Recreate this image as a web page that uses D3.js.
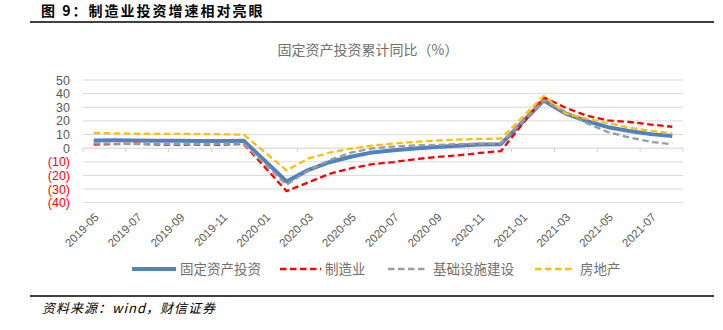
<!DOCTYPE html>
<html><head><meta charset="utf-8">
<script src="https://cdn.jsdelivr.net/npm/d3@7"></script>
<style>
body{margin:0;background:#fff;}
svg{display:block;}
</style></head>
<body>
<svg id="c" width="723" height="330"></svg>
<script>
const months = ["2019-05","2019-06","2019-07","2019-08","2019-09","2019-10","2019-11","2019-12",
"2020-01","2020-02","2020-03","2020-04","2020-05","2020-06","2020-07","2020-08","2020-09","2020-10","2020-11","2020-12",
"2021-01","2021-02","2021-03","2021-04","2021-05","2021-06","2021-07","2021-08"];
const fai   = [5.6,5.8,5.7,5.5,5.4,5.2,5.2,5.4,null,-24.5,-16.1,-10.3,-6.3,-3.1,-1.6,-0.3,0.8,1.8,2.6,2.9,null,35.0,25.6,19.9,15.4,12.6,10.3,8.9];
const mfg   = [2.7,3.0,3.3,2.6,2.5,2.6,2.5,3.1,null,-31.5,-25.2,-18.8,-14.8,-11.7,-10.2,-8.1,-6.5,-5.3,-3.5,-2.2,null,37.3,29.8,23.8,20.4,19.2,17.3,15.7];
const infra = [3.5,3.2,3.0,3.2,3.0,3.1,3.2,3.3,null,-26.9,-16.4,-8.8,-3.3,-0.1,1.2,2.0,2.4,3.0,3.3,3.4,null,35.0,26.8,18.4,11.8,7.8,4.6,2.9];
const estate= [11.2,10.9,10.6,10.5,10.5,10.3,10.2,9.9,null,-16.3,-7.7,-3.3,-0.3,1.9,3.4,4.6,5.6,6.3,6.8,7.0,null,38.3,25.6,21.6,18.3,15.0,12.7,10.9];
const seriesNames = ["固定资产投资","制造业","基础设施建设","房地产"];
const yTicks = [50,40,30,20,10,0,-10,-20,-30,-40];
const xLabels = months.filter((m,i)=>i%2===0);

const svg = d3.select("#c");
const FONT = "'Liberation Sans','Noto Sans CJK SC',sans-serif";
const CJK = "'Noto Sans CJK SC',sans-serif";

// header
svg.append("text").attr("x",41).attr("y",15.5).attr("font-family",CJK).attr("font-weight","bold")
  .attr("font-size",14).attr("letter-spacing",2).attr("fill","#000").text("图 9：制造业投资增速相对亮眼");
svg.append("line").attr("x1",30).attr("x2",714).attr("y1",22).attr("y2",22).attr("stroke","#000").attr("stroke-width",1.3);
svg.append("text").attr("x",368).attr("y",55).attr("text-anchor","middle").attr("font-family",CJK)
  .attr("font-size",14).attr("fill","#707070").text("固定资产投资累计同比（%）");

const x = d3.scaleBand().domain(months).range([83,683]).padding(0);
const y = d3.scaleLinear().domain([-40,50]).range([202.7,80]);
const cx = m => x(m)+x.bandwidth()/2;

// grid
svg.append("g").selectAll("line").data(yTicks.filter(v=>v!==0)).join("line")
  .attr("x1",83).attr("x2",683).attr("y1",d=>y(d)).attr("y2",d=>y(d))
  .attr("stroke","#d9d9d9").attr("stroke-width",1);
// zero axis line
svg.append("line").attr("x1",83).attr("x2",683).attr("y1",y(0)).attr("y2",y(0)).attr("stroke","#d0d0d0").attr("stroke-width",1);
// ticks every 2 months
const tickMonths = months.filter((m,i)=>i%2===0);
svg.append("g").selectAll("line").data(tickMonths.concat(["end"])).join("line")
  .attr("x1",d=>d==="end"?683:x(d)).attr("x2",d=>d==="end"?683:x(d))
  .attr("y1",y(0)).attr("y2",y(0)+4).attr("stroke","#d0d0d0");

// y labels
svg.append("g").selectAll("text").data(yTicks).join("text")
  .attr("x",70).attr("y",d=>y(d)+4.5).attr("text-anchor","end")
  .attr("font-family",FONT).attr("font-size",12.5)
  .attr("fill",d=>d<0?"#ff0000":"#595959")
  .text(d=>d<0?"("+Math.abs(d)+")":d);

// x labels
svg.append("g").selectAll("text").data(xLabels).join("text")
  .attr("transform",d=>`translate(${cx(d)+3},${215}) rotate(-45)`)
  .attr("text-anchor","end").attr("font-family",FONT).attr("font-size",11.5)
  .attr("fill","#595959").attr("dy","0.35em").text(d=>d);

// lines
const styles = [
  {data:fai, color:"#5081c0", w:4, dash:null},
  {data:mfg, color:"#ff0000", w:2.3, dash:"6.5 3.5"},
  {data:infra, color:"#9c9c9c", w:2.3, dash:"6.5 3.5"},
  {data:estate, color:"#ffc000", w:2.3, dash:"6.5 3.5"}
];
const line = d3.line().x(d=>cx(d.m)).y(d=>y(d.v));
styles.forEach(s=>{
  const pts = months.map((m,i)=>({m, v:s.data[i]})).filter(d=>d.v!==null);
  svg.append("path").datum(pts).attr("d",line).attr("fill","none")
    .attr("stroke",s.color).attr("stroke-width",s.w).attr("stroke-linejoin","round")
    .attr("stroke-dasharray",s.dash);
});

// legend
const leg = [
  {x1:132,x2:176,tx:180},
  {x1:280,x2:321,tx:325},
  {x1:388,x2:427,tx:433},
  {x1:535,x2:575,tx:580}
];
leg.forEach((l,i)=>{
  const s = styles[i];
  svg.append("line").attr("x1",l.x1).attr("x2",l.x2).attr("y1",269).attr("y2",269)
    .attr("stroke",s.color).attr("stroke-width",s.w).attr("stroke-dasharray",s.dash);
  svg.append("text").attr("x",l.tx).attr("y",274).attr("font-family",CJK).attr("font-size",13.5)
    .attr("fill","#707070").text(seriesNames[i]);
});

// footer
svg.append("line").attr("x1",30).attr("x2",714).attr("y1",296).attr("y2",296).attr("stroke","#000").attr("stroke-width",1.3);
svg.append("text").attr("x",42).attr("y",313).attr("font-family",CJK).attr("font-style","italic")
  .attr("font-size",13).attr("letter-spacing",1).attr("fill","#000").text("资料来源：wind，财信证券");
</script>
</body></html>
